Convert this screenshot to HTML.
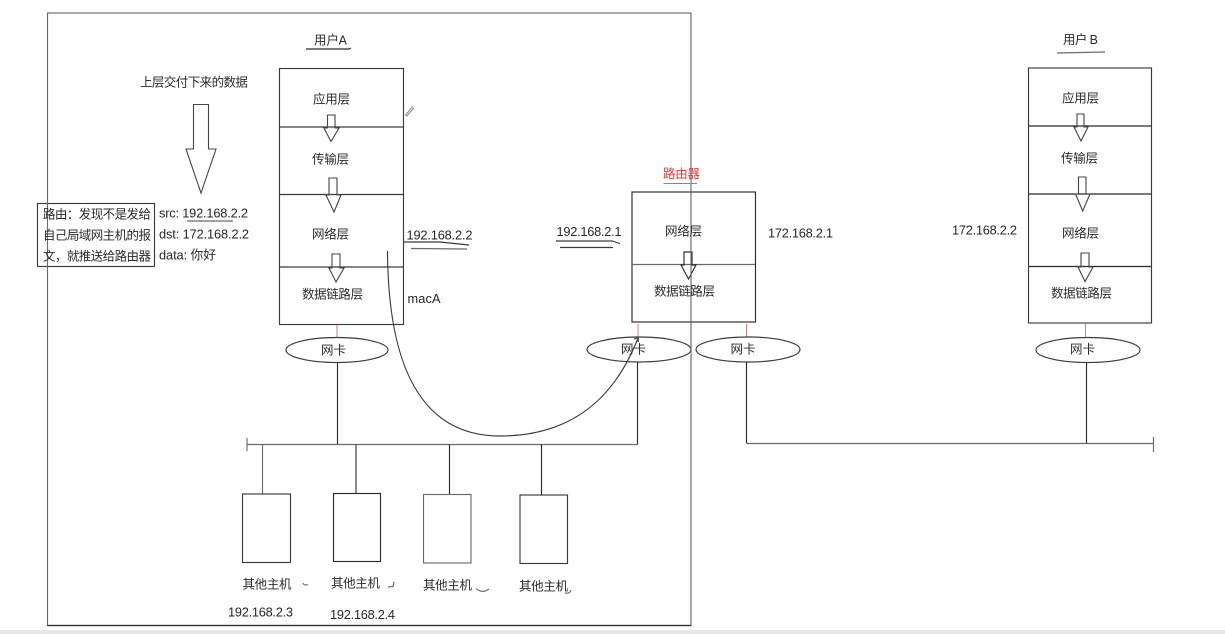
<!DOCTYPE html>
<html lang="zh">
<head>
<meta charset="utf-8">
<title>路由器网络示意图</title>
<style>
html,body{margin:0;padding:0;background:#fff;width:1225px;height:634px;overflow:hidden}
svg{display:block;filter:blur(0.35px)}
text{font-family:"Liberation Sans","Noto Sans CJK SC",sans-serif;fill:#262626;font-size:12.8px}
.c{font-family:"Liberation Sans","Noto Sans CJK SC",sans-serif;font-size:12.5px;fill:#2b2b2b}
.l{fill:none;stroke:#3a3a3a;stroke-width:1.15}
.d{fill:none;stroke:#2a2a2a;stroke-width:1.15}
.g{fill:none;stroke:#6a6a6a;stroke-width:1.15}
.r{fill:none;stroke:#d08080;stroke-width:1}
.a{fill:none;stroke:#444;stroke-width:1.1}
</style>
</head>
<body>
<svg width="1225" height="634" viewBox="0 0 1225 634" xmlns="http://www.w3.org/2000/svg">
<rect x="0" y="630" width="1225" height="4" fill="#e6e6e6"/>

<!-- left note box -->
<rect class="l" x="37.5" y="203.5" width="117" height="63"/>

<!-- stack A -->
<rect class="l" x="279.5" y="68.5" width="124" height="256"/>
<path class="l" d="M279 127H403M279 194.5H403M279 267H403"/>
<!-- router -->
<rect class="d" x="632" y="192" width="123.5" height="130"/>
<path class="g" d="M632 264.5H755"/>
<!-- stack B -->
<rect class="l" x="1028.5" y="68" width="123" height="255"/>
<path class="d" d="M1029 126H1151M1029 194H1151M1029 266.5H1151"/>

<!-- hollow arrows -->
<polygon class="a" points="193.5,104.5 208.5,104.5 208.5,149 216,149 201,193 186,149 193.5,149"/>
<polygon class="a" points="327.5,115 335,115 335,128 339,128 331,141.5 324,128 327.5,128"/>
<polygon class="a" points="329,178 337,178 337,195 341,195 334,212 326,195 329,195"/>
<polygon class="a" points="332,254 340,254 340,268 344,268 336,282 329,268 332,268"/>
<polygon class="d" points="684,252 692,252 692,265 696,265 688.5,279 681,265 684,265"/>
<polygon class="a" points="1077,114 1084,114 1084,127 1088,127 1081,141 1074,127 1077,127"/>
<polygon class="a" points="1078.5,177 1086,177 1086,194 1090,194 1082.7,211 1075.5,194 1078.5,194"/>
<polygon class="a" points="1081,253 1089,253 1089,267 1093,267 1085,281.5 1078,267 1081,267"/>

<!-- red connectors -->
<path class="r" d="M337 325V337M638 324V337M746.5 324V337M1085.5 324V337"/>

<!-- NICs -->
<ellipse class="l" cx="337" cy="350" rx="51" ry="12.5"/>
<ellipse class="l" cx="639" cy="349.5" rx="52" ry="12.5"/>
<ellipse class="l" cx="748" cy="349.5" rx="52" ry="12.5"/>
<ellipse class="l" cx="1088" cy="350" rx="52" ry="12.5"/>

<!-- buses -->
<path class="d" d="M337.5 362.5V445M637.5 362V444.5"/>
<path class="g" d="M247 444.5H638M247 438V451"/>
<path class="g" d="M262.5 444.5V494"/>
<path class="l" d="M356 444.5V493.5"/>
<path class="d" d="M449.5 444.5V494.5M541.5 444.5V495"/>
<path class="d" d="M746.5 362V443.5"/>
<path class="g" d="M746.5 443.5H1153M1153.5 437V452"/>
<path class="d" d="M1086.5 362.5V443.5"/>

<!-- hosts -->
<rect class="l" x="242.5" y="494" width="48" height="68.5"/>
<rect class="d" x="333.5" y="493.5" width="47" height="68"/>
<rect class="g" x="423.5" y="494.5" width="47.5" height="68.5"/>
<rect class="l" x="520" y="495" width="47.5" height="68.5"/>

<!-- curve -->
<path class="l" d="M387.5 251C388 335 405 436 500 436C560 436 610 410 638 338"/>
<path class="l" d="M634 339L638 337.5L638.5 342"/>

<!-- frame -->
<rect class="g" x="47.5" y="13" width="643.5" height="612.5"/>
<path class="d" d="M47.5 625.5H691"/>

<!-- underlines and scribbles -->
<path class="d" d="M306 49H349L351 48"/>
<path class="g" d="M1057 53L1105 52"/>
<path d="M663.5 183.5H697" fill="none" stroke="#888"/>
<path class="g" d="M187 221H233"/>
<path class="l" d="M404 242H440L469 245"/>
<path class="g" d="M411 248.5L467 249"/>
<path class="l" d="M556 241H612L620 243.5"/>
<path class="l" d="M560 247.5L613 247.5"/>
<path class="g" d="M303 583Q304 586 308 584.5"/>
<path class="g" d="M388 587L393 586.5L394 581.5"/>
<path class="g" d="M476 588.5Q482 594 489 589"/>
<path class="g" d="M565 593Q570 594 571 590"/>
<path d="M405.5 115L412 107L413.5 108.5L407 116Z" fill="#ddd" stroke="#777" stroke-width=".7"/>

<!-- stack A labels -->
<text class="c" x="314" y="44.5" textLength="33" lengthAdjust="spacing">用户A</text>
<text class="c" x="313" y="103.5" textLength="37">应用层</text>
<text class="c" x="312" y="163.5" textLength="37">传输层</text>
<text class="c" x="312" y="238.5" textLength="37">网络层</text>
<text class="c" x="302" y="298.5" textLength="61">数据链路层</text>
<text class="c" x="321" y="354.5" textLength="25">网卡</text>

<!-- left labels -->
<text class="c" x="140" y="86.5" textLength="108">上层交付下来的数据</text>
<text class="c" x="43" y="218.5" textLength="108">路由：发现不是发给</text>
<text class="c" x="43" y="239.5" textLength="108">自己局域网主机的报</text>
<text class="c" x="43" y="260.5" textLength="108">文，就推送给路由器</text>
<text x="159" y="217.5" textLength="89">src: 192.168.2.2</text>
<text x="159" y="238.5" textLength="90">dst: 172.168.2.2</text>
<text x="159" y="259.5" textLength="57">data: 你好</text>

<!-- addresses -->
<text x="406.5" y="239.5" textLength="66">192.168.2.2</text>
<text x="407.5" y="303" textLength="33">macA</text>
<text x="556.5" y="236" textLength="65">192.168.2.1</text>
<text x="768" y="237.5" textLength="65">172.168.2.1</text>
<text x="952" y="234.5" textLength="65">172.168.2.2</text>

<!-- router labels -->
<text class="c" x="663" y="178" textLength="37" style="fill:#e0403c">路由器</text>
<text class="c" x="665" y="235.5" textLength="37">网络层</text>
<text class="c" x="654" y="295.5" textLength="61">数据链路层</text>
<text class="c" x="621" y="353.5" textLength="25">网卡</text>
<text class="c" x="730.5" y="353.5" textLength="25">网卡</text>

<!-- stack B labels -->
<text class="c" x="1063" y="44" textLength="35" lengthAdjust="spacing">用户 B</text>
<text class="c" x="1062" y="102.5" textLength="37">应用层</text>
<text class="c" x="1061" y="162.5" textLength="37">传输层</text>
<text class="c" x="1062" y="237.5" textLength="37">网络层</text>
<text class="c" x="1051" y="297.5" textLength="61">数据链路层</text>
<text class="c" x="1070" y="353.5" textLength="25">网卡</text>

<!-- host labels -->
<text class="c" x="242.5" y="588.5" textLength="49">其他主机</text>
<text class="c" x="331" y="587.5" textLength="49">其他主机</text>
<text class="c" x="423" y="589.5" textLength="49">其他主机</text>
<text class="c" x="519" y="590.5" textLength="49">其他主机</text>
<text x="228" y="616.5" textLength="65">192.168.2.3</text>
<text x="330" y="619" textLength="65">192.168.2.4</text>
</svg>
</body>
</html>
